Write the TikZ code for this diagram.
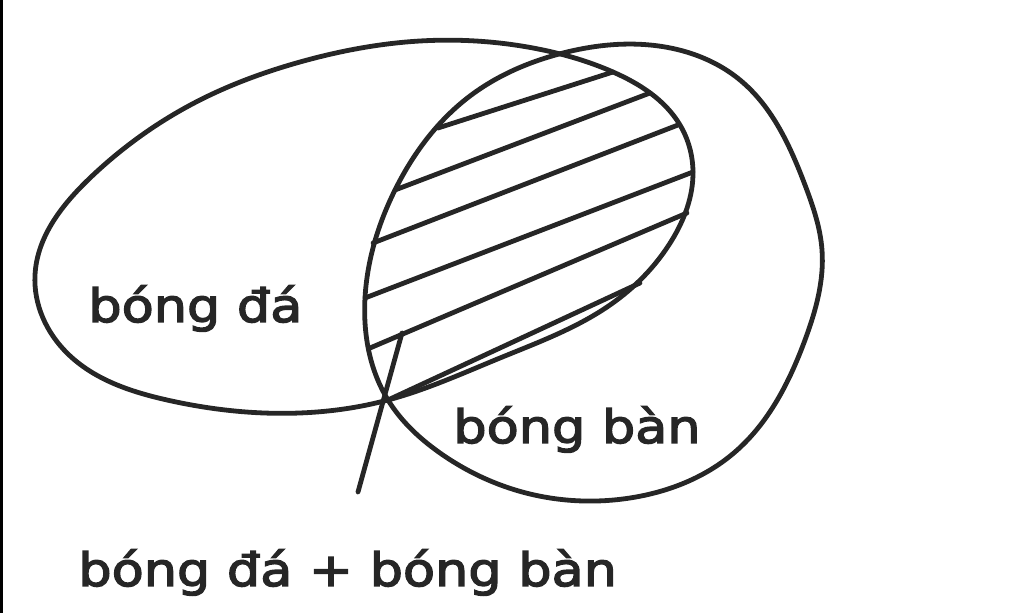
\documentclass[tikz,border=0pt]{standalone}
\usepackage{fontspec}
\newfontfamily\vnfont[FakeStretch=1.14, FakeBold=3]{DejaVu Sans}
\usetikzlibrary{positioning, hobby}

\tikzset{
  setline/.style={line width=2.4pt, black!85, line cap=round, line join=round},
  hatchline/.style={line width=2.4pt, black!85, line cap=round},
  setlabel/.style={inner sep=0pt, anchor=base west, text=black!85,
    font=\vnfont\fontsize{23}{27}\selectfont}
}

\begin{document}
\begin{tikzpicture}[x=0.5pt, y=-0.5pt]
\useasboundingbox (0,0) rectangle (1024,613);

% Left edge
\fill[black] (0,0) rectangle (3,613);

% Set bong da
\draw[setline] plot[closed hobby] coordinates {
  (388,400) (300,413) (167,400) (67,353) (35,275) (90,178)
  (200,100) (300,62) (420,41) (533,48) (613,72)
  (680,125) (693,172) (672,240) (610,305) (500,358)};

% Set bong ban
\draw[setline] plot[closed hobby] coordinates {
  (388,400) (365,298) (395,190) (470,96)
  (563,53) (650,45) (740,80) (805,185)
  (822,250) (805,340) (735,452) (630,498)
  (530,494) (440,453)};

% Hatching of the common part
\foreach \xa/\ya/\xb/\yb in {438/128/613/72, 395/190/650/93,
    373/243/678/125, 365/298/693/172, 370/348/687/213, 388/400/640/283}
  \draw[hatchline] (\xa,\ya) -- (\xb,\yb);

% Pointer
\coordinate (tip) at (402,333);
\coordinate (tail) at (358,492);
\draw[hatchline] (tail) -- (tip);

% Labels
\node[setlabel] (da) at (88,322) {bóng đá};
\node[setlabel] (ban) at (453,443) {bóng bàn};
\node[setlabel] (both) at (78,586) {bóng đá + bóng bàn};

\end{tikzpicture}
\end{document}
